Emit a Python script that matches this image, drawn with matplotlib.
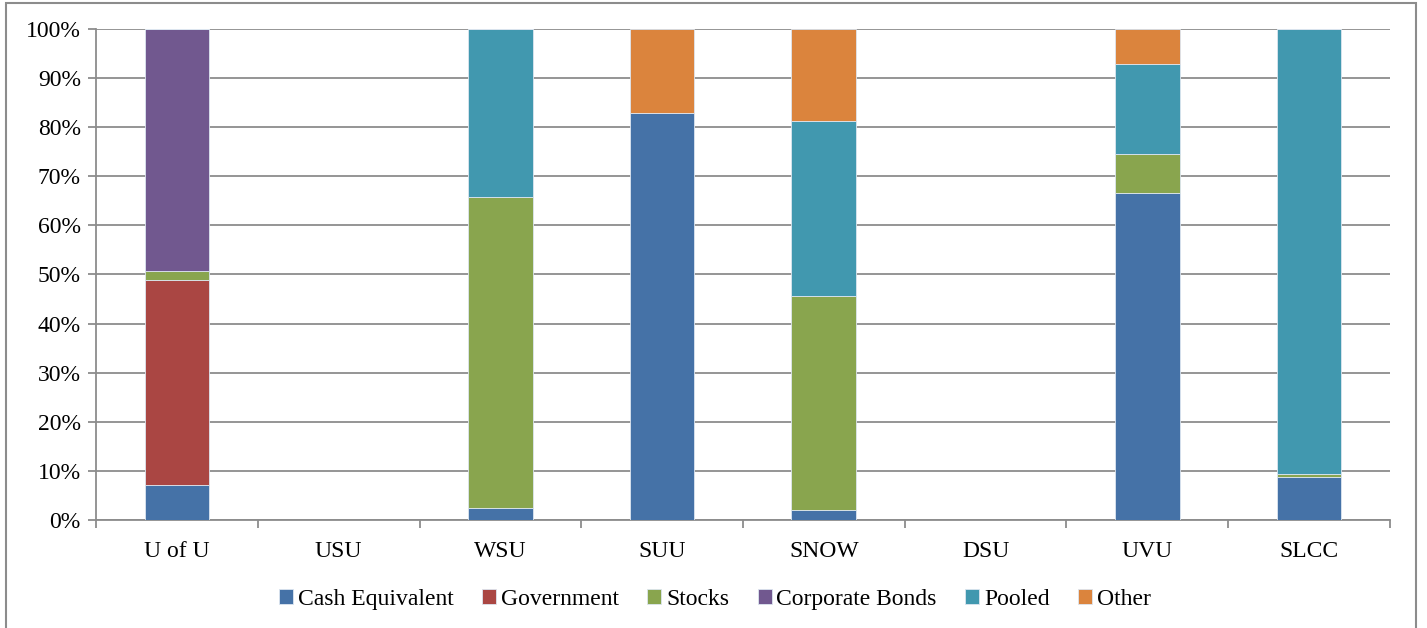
import matplotlib
matplotlib.use("Agg")
import matplotlib.pyplot as plt
from matplotlib.patches import Rectangle
from matplotlib.ticker import FuncFormatter

plt.rcParams['font.family'] = ['Liberation Serif', 'DejaVu Serif']

schools = ["U of U", "USU", "WSU", "SUU", "SNOW", "DSU", "UVU", "SLCC"]
series = ["Cash Equivalent", "Government", "Stocks", "Corporate Bonds", "Pooled", "Other"]
colors = ["#4572A7", "#AA4643", "#89A54E", "#71588F", "#4198AF", "#DB843D"]

cash = [7.1, 0, 2.4, 82.9, 2.0, 0, 66.6, 8.8]
government = [41.8, 0, 0, 0, 0, 0, 0, 0]
stocks = [1.8, 0, 63.4, 0, 43.6, 0, 7.9, 0.6]
corporate = [49.3, 0, 0, 0, 0, 0, 0, 0]
pooled = [0, 0, 34.2, 0, 35.7, 0, 18.4, 90.6]
other = [0, 0, 0, 17.1, 18.7, 0, 7.1, 0]
values = [cash, government, stocks, corporate, pooled, other]

fig = plt.figure(figsize=(14.27, 6.28), dpi=100)
ax = fig.add_axes([0.0673, 0.172, 0.9067, 0.7818])

x = list(range(len(schools)))
bottom = [0.0] * len(schools)
for name, col, vals in zip(series, colors, values):
    ax.bar(x, vals, width=0.4, bottom=bottom, color=col, label=name,
           edgecolor="#dde6f0", linewidth=0.6, zorder=3)
    bottom = [b + v for b, v in zip(bottom, vals)]

ax.set_xlim(-0.5, len(schools) - 0.5)
ax.set_ylim(0, 100)
ax.set_yticks(range(0, 101, 10))
ax.yaxis.set_major_formatter(FuncFormatter(lambda v, p: f"{int(v)}%"))
ax.grid(axis="y", color="#8c8c8c", linewidth=1.3, zorder=0)

ax.set_xticks(x)
ax.set_xticklabels(schools)
ax.set_xticks([i - 0.5 for i in range(len(schools) + 1)], minor=True)
ax.tick_params(axis="x", which="major", length=0, pad=15, labelsize=17)
ax.tick_params(axis="x", which="minor", length=6, color="#8c8c8c", width=1.3)
ax.tick_params(axis="y", length=6, color="#8c8c8c", width=1.3, labelsize=17, pad=5)

for side in ["top", "right"]:
    ax.spines[side].set_visible(False)
for side in ["left", "bottom"]:
    ax.spines[side].set_color("#8c8c8c")
    ax.spines[side].set_linewidth(1.3)

leg = fig.legend(loc="center", bbox_to_anchor=(0.501, 0.046), ncol=6, frameon=False,
                 fontsize=17, handlelength=0.6, handleheight=0.6, handletextpad=0.2,
                 columnspacing=1.2)

fig.patches.append(Rectangle((6 / 1427, -0.01), 1410 / 1427, 1 - 3 / 628 + 0.01,
                             transform=fig.transFigure, fill=False,
                             edgecolor="#8c8c8c", linewidth=1.5))

fig.savefig("out.png", dpi=100, facecolor="white")
